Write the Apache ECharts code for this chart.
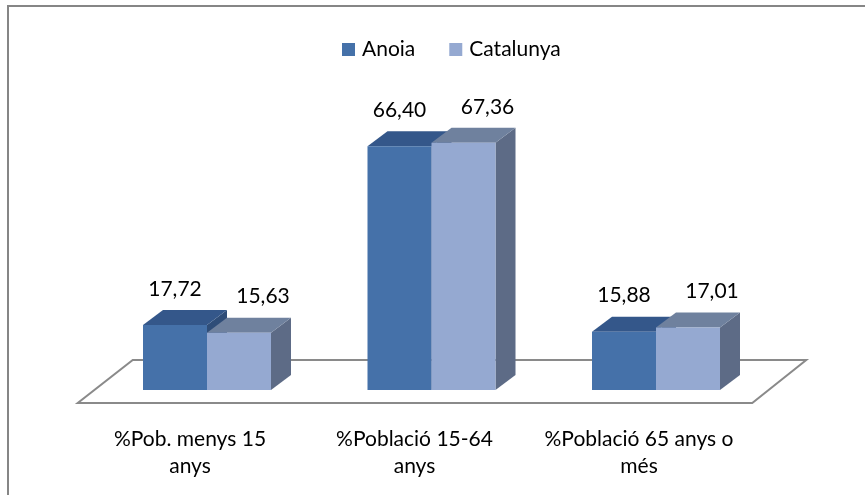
<!DOCTYPE html>
<html>
<head>
<meta charset="utf-8">
<script src="https://cdn.jsdelivr.net/npm/echarts@6/dist/echarts.min.js"></script>
<style>
  html, body { margin: 0; padding: 0; background: #fff; }
  #chart { width: 865px; height: 495px; }
</style>
</head>
<body>
<div id="chart"></div>
<script>
const categories = ["%Pob. menys 15\nanys", "%Població 15-64\nanys", "%Població 65 anys o\nmés"];
const anoia = [17.72, 66.4, 15.88];
const catalunya = [15.63, 67.36, 17.01];

const font = "Lato, 'Open Sans', sans-serif";
const depth = [20, -15];
const barW = 64;

const colors = {
  Anoia: { front: "#4571a9", top: "#34578a", side: "#2f4d78" },
  Catalunya: { front: "#95a9d1", top: "#6f819e", side: "#5d6b86" },
};

function fmt(v) {
  return v.toFixed(2).replace(".", ",");
}

function barRenderer(name, shift, labelDx) {
  const c = colors[name];
  return function (params, api) {
    const idx = api.value(0);
    const val = api.value(1);
    const top = api.coord([idx, val]);
    const base = api.coord([idx, 0]);
    const x0 = top[0] + shift;
    const x1 = x0 + barW;
    const yt = top[1];
    const yb = base[1];
    const [dx, dy] = depth;
    return {
      type: "group",
      children: [
        {
          type: "polygon",
          shape: { points: [[x1, yt], [x1 + dx, yt + dy], [x1 + dx, yb + dy], [x1, yb]] },
          style: { fill: c.side },
        },
        {
          type: "polygon",
          shape: { points: [[x0, yt], [x0 + dx, yt + dy], [x1 + dx, yt + dy], [x1, yt]] },
          style: { fill: c.top },
        },
        {
          type: "rect",
          shape: { x: x0, y: yt, width: barW, height: yb - yt },
          style: { fill: c.front },
        },
        {
          type: "text",
          style: {
            text: fmt(val),
            x: (x0 + x1) / 2 + labelDx,
            y: yt - 36,
            align: "center",
            verticalAlign: "middle",
            fontFamily: font,
            fontSize: 21,
            fill: "#000",
          },
        },
      ],
    };
  };
}

function floorRenderer(params, api) {
  const c0 = api.coord([0, 0]);
  const bw = api.size([1, 0])[0];
  const left = c0[0] - bw / 2;
  const right = left + bw * categories.length;
  const y = c0[1];
  return {
    type: "polygon",
    shape: {
      points: [
        [left + 38, y - 30],
        [right + 38, y - 30],
        [right - 16, y + 13],
        [left - 17, y + 13],
      ],
    },
    style: { fill: "#fff", stroke: "#8a8a8a", lineWidth: 2 },
  };
}

const chart = echarts.init(document.getElementById("chart"));
chart.setOption({
  animation: false,
  backgroundColor: "#fff",
  graphic: [
    {
      type: "rect",
      shape: { x: 8, y: 6, width: 900, height: 520 },
      style: { fill: "none", stroke: "#868686", lineWidth: 2 },
      silent: true,
    },
  ],
  legend: {
    data: ["Anoia", "Catalunya"],
    top: 34,
    left: 337,
    icon: "rect",
    itemWidth: 13,
    itemHeight: 13,
    itemGap: 34,
    textStyle: { fontFamily: font, fontSize: 21, color: "#000", padding: [0, 0, 0, 2] },
  },
  grid: { left: 94.75, right: 96.75, top: 23, bottom: 105 },
  xAxis: {
    type: "category",
    data: categories,
    axisLine: { show: false },
    axisTick: { show: false },
    axisLabel: {
      interval: 0,
      margin: 36,
      fontFamily: font,
      fontSize: 21,
      lineHeight: 27,
      color: "#000",
      padding: [0, 34, 0, 0],
    },
  },
  yAxis: { type: "value", min: 0, max: 100, show: false },
  series: [
    {
      name: "floor",
      type: "custom",
      renderItem: floorRenderer,
      data: [[0, 0]],
      silent: true,
      z: 1,
    },
    {
      name: "Anoia",
      type: "custom",
      renderItem: barRenderer("Anoia", -barW, 0),
      itemStyle: { color: colors.Anoia.front },
      data: anoia.map((v, i) => [i, v]),
      z: 2,
    },
    {
      name: "Catalunya",
      type: "custom",
      renderItem: barRenderer("Catalunya", 0, 24),
      itemStyle: { color: colors.Catalunya.front },
      data: catalunya.map((v, i) => [i, v]),
      z: 3,
    },
  ],
});
</script>
</body>
</html>
